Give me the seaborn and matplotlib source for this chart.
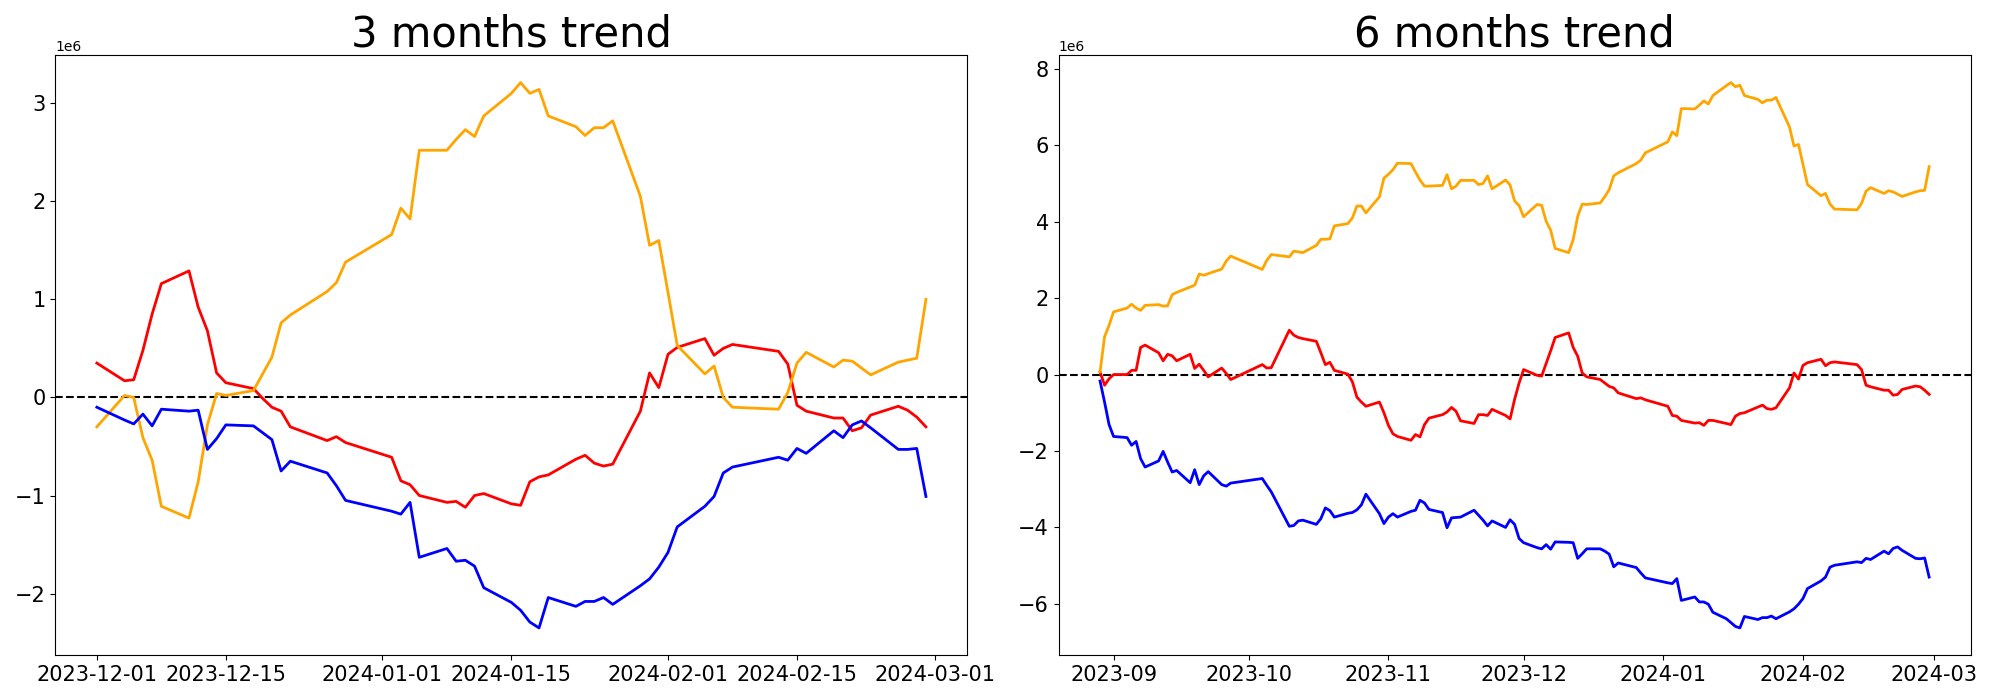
import pandas as pd
import numpy as np
import matplotlib
matplotlib.use("Agg")
import matplotlib.pyplot as plt
import seaborn as sns

# KRX trading days (weekdays minus market holidays)
krx_holidays = ["2023-09-28", "2023-09-29", "2023-10-02", "2023-10-03", "2023-10-09",
                "2023-12-25", "2023-12-29", "2024-01-01", "2024-02-09", "2024-02-12"]

dates_3m = pd.bdate_range("2023-12-01", "2024-02-29")
dates_3m = dates_3m[~dates_3m.isin(pd.to_datetime(krx_holidays))]
dates_6m = pd.bdate_range("2023-08-29", "2024-02-29")
dates_6m = dates_6m[~dates_6m.isin(pd.to_datetime(krx_holidays))]

# 3 months trend, values in millions
orange_3m = [-0.30, 0.02, 0.00, -0.41, -0.64, -1.11, -1.23, -0.86, -0.28, 0.04,
             0.02, 0.07, 0.24, 0.41, 0.76, 0.84, 1.08, 1.17, 1.38, 1.66,
             1.93, 1.82, 2.52, 2.52, 2.63, 2.73, 2.66, 2.87, 3.10, 3.21,
             3.10, 3.14, 2.87, 2.76, 2.67, 2.75, 2.75, 2.82, 2.05, 1.55,
             1.60, 1.07, 0.53, 0.24, 0.32, 0.00, -0.10, -0.12, 0.05, 0.35,
             0.46, 0.31, 0.38, 0.37, 0.30, 0.23, 0.36, 0.38, 0.40, 1.00]
red_3m = [0.35, 0.17, 0.18, 0.48, 0.85, 1.16, 1.29, 0.92, 0.68, 0.25,
          0.15, 0.09, -0.01, -0.10, -0.14, -0.30, -0.44, -0.40, -0.46, -0.61,
          -0.85, -0.89, -1.00, -1.07, -1.06, -1.12, -1.00, -0.98, -1.085, -1.10,
          -0.86, -0.81, -0.79, -0.63, -0.59, -0.67, -0.70, -0.68, -0.14, 0.25,
          0.10, 0.44, 0.51, 0.60, 0.43, 0.50, 0.54, 0.47, 0.34, -0.08,
          -0.14, -0.21, -0.21, -0.34, -0.31, -0.18, -0.09, -0.13, -0.20, -0.30]
blue_3m = [-0.10, -0.23, -0.27, -0.17, -0.29, -0.12, -0.14, -0.13, -0.53, -0.42,
           -0.28, -0.29, -0.36, -0.43, -0.75, -0.65, -0.77, -0.90, -1.05, -1.16,
           -1.19, -1.07, -1.63, -1.54, -1.67, -1.66, -1.72, -1.94, -2.09, -2.17,
           -2.29, -2.35, -2.04, -2.13, -2.08, -2.08, -2.04, -2.11, -1.92, -1.85,
           -1.73, -1.58, -1.32, -1.11, -1.01, -0.77, -0.71, -0.61, -0.64, -0.52,
           -0.57, -0.34, -0.41, -0.28, -0.24, -0.31, -0.53, -0.53, -0.52, -1.01]

# 6 months trend, values in millions
orange_6m = [0.07, 0.99, 1.29, 1.64, 1.74, 1.84, 1.74, 1.68, 1.81, 1.83,
             1.79, 1.80, 2.09, 2.15, 2.29, 2.34, 2.63, 2.60, 2.64, 2.76,
             2.97, 3.10, 2.75, 2.99, 3.14, 3.08, 3.23, 3.21, 3.19, 3.38,
             3.54, 3.54, 3.55, 3.89, 3.95, 4.10, 4.41, 4.41, 4.23, 4.65,
             5.14, 5.24, 5.36, 5.53, 5.52, 5.30, 5.09, 4.93, 4.93, 4.95,
             5.23, 4.86, 4.93, 5.08, 5.08, 4.97, 5.00, 5.20, 4.86, 5.09,
             4.96, 4.54, 4.42, 4.13, 4.45, 4.43, 4.01, 3.78, 3.30, 3.19,
             3.53, 4.14, 4.46, 4.45, 4.49, 4.65, 4.84, 5.20, 5.28, 5.52,
             5.61, 5.80, 6.09, 6.35, 6.25, 6.96, 6.95, 7.05, 7.16, 7.08,
             7.30, 7.56, 7.64, 7.53, 7.57, 7.30, 7.20, 7.11, 7.18, 7.18,
             7.25, 6.48, 5.98, 6.02, 5.50, 4.97, 4.68, 4.74, 4.46, 4.33,
             4.31, 4.48, 4.80, 4.89, 4.74, 4.81, 4.78, 4.72, 4.66, 4.78,
             4.81, 4.82, 5.44]
red_6m = [0.07, -0.28, -0.11, 0.00, 0.00, 0.11, 0.11, 0.71, 0.77, 0.57,
          0.36, 0.53, 0.49, 0.36, 0.53, 0.16, 0.27, 0.11, -0.06, 0.17,
          0.03, -0.13, 0.26, 0.17, 0.18, 1.16, 1.03, 0.97, 0.94, 0.87,
          0.57, 0.26, 0.32, 0.11, 0.01, -0.19, -0.59, -0.72, -0.83, -0.72,
          -1.00, -1.33, -1.55, -1.62, -1.72, -1.57, -1.63, -1.31, -1.14, -1.05,
          -0.98, -0.86, -0.96, -1.21, -1.28, -1.05, -1.05, -1.07, -0.91, -1.07,
          -1.16, -0.65, -0.22, 0.13, -0.02, -0.04, 0.29, 0.62, 0.97, 1.09,
          0.71, 0.48, 0.04, -0.06, -0.13, -0.22, -0.31, -0.35, -0.48, -0.63,
          -0.61, -0.66, -0.83, -1.07, -1.09, -1.20, -1.27, -1.26, -1.33, -1.20,
          -1.20, -1.28, -1.31, -1.09, -1.02, -1.00, -0.85, -0.80, -0.89, -0.91,
          -0.87, -0.35, 0.04, -0.12, 0.24, 0.31, 0.40, 0.23, 0.31, 0.33,
          0.26, 0.13, -0.28, -0.32, -0.41, -0.41, -0.54, -0.52, -0.39, -0.30,
          -0.32, -0.41, -0.52]
blue_6m = [-0.17, -0.72, -1.31, -1.62, -1.65, -1.85, -1.75, -2.20, -2.42, -2.26,
           -2.01, -2.29, -2.55, -2.51, -2.83, -2.49, -2.88, -2.65, -2.54, -2.88,
           -2.92, -2.84, -2.72, -2.90, -3.07, -3.97, -3.95, -3.83, -3.81, -3.92,
           -3.77, -3.49, -3.56, -3.73, -3.63, -3.61, -3.54, -3.41, -3.13, -3.64,
           -3.90, -3.73, -3.64, -3.73, -3.58, -3.55, -3.29, -3.36, -3.53, -3.61,
           -4.01, -3.75, -3.74, -3.73, -3.55, -3.68, -3.81, -3.96, -3.83, -4.00,
           -3.80, -3.92, -4.29, -4.40, -4.53, -4.56, -4.45, -4.57, -4.38, -4.39,
           -4.40, -4.81, -4.69, -4.56, -4.56, -4.62, -4.70, -5.03, -4.93, -5.05,
           -5.19, -5.32, -5.45, -5.47, -5.34, -5.91, -5.82, -5.95, -5.95, -6.01,
           -6.22, -6.39, -6.49, -6.59, -6.63, -6.33, -6.41, -6.36, -6.36, -6.32,
           -6.39, -6.21, -6.13, -6.01, -5.86, -5.60, -5.40, -5.30, -5.04, -4.99,
           -4.90, -4.92, -4.81, -4.84, -4.62, -4.69, -4.55, -4.51, -4.60, -4.81,
           -4.82, -4.80, -5.30]

panels = [
    ("3 months trend", dates_3m, orange_3m, red_3m, blue_3m),
    ("6 months trend", dates_6m, orange_6m, red_6m, blue_6m),
]

fig, axes = plt.subplots(1, 2, figsize=(20, 7), dpi=100)
plt.subplots_adjust(left=0.0277, right=0.9853, bottom=0.064, top=0.921, wspace=0.1)

for ax, (title, dates, orange, red, blue) in zip(axes, panels):
    ax.axhline(0, color='black', linestyle='--', linewidth=1.5)
    sns.lineplot(x=dates, y=np.array(red) * 1e6, color='red', linewidth=2, ax=ax)
    sns.lineplot(x=dates, y=np.array(orange) * 1e6, color='orange', linewidth=2, ax=ax)
    sns.lineplot(x=dates, y=np.array(blue) * 1e6, color='blue', linewidth=2, ax=ax)
    ax.set_title(title, fontsize=30)
    ax.set_xlabel('')
    ax.set_ylabel('')
    ax.tick_params(labelsize=15)

plt.savefig("out.png")
